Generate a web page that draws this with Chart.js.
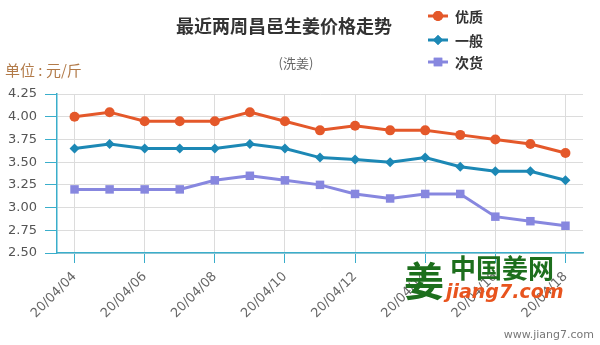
<!DOCTYPE html>
<html>
<head>
<meta charset="utf-8">
<script src="https://cdn.jsdelivr.net/npm/chart.js@4/dist/chart.umd.min.js"></script>
<style>
  html, body { margin: 0; padding: 0; background: #fff; }
  #wrap { width: 600px; height: 345px; position: relative; }
</style>
</head>
<body>
<div id="wrap"><canvas id="priceChart"></canvas></div>
<script>
// ============================================
// 昌邑生姜价格走势 (洗姜)
// ============================================
const dates = ['20/04/04', '20/04/05', '20/04/06', '20/04/07', '20/04/08', '20/04/09', '20/04/10',
    '20/04/11', '20/04/12', '20/04/13', '20/04/14', '20/04/15', '20/04/16', '20/04/17', '20/04/18'];
const youzhi = [4.00, 4.05, 3.95, 3.95, 3.95, 4.05, 3.95, 3.85, 3.90, 3.85, 3.85, 3.80, 3.75, 3.70, 3.60];
const yiban = [3.65, 3.70, 3.65, 3.65, 3.65, 3.70, 3.65, 3.55, 3.53, 3.50, 3.55, 3.45, 3.40, 3.40, 3.30];
const cihuo = [3.20, 3.20, 3.20, 3.20, 3.30, 3.35, 3.30, 3.25, 3.15, 3.10, 3.15, 3.15, 2.90, 2.85, 2.80];
const seriesNames = ['优质', '一般', '次货'];

const CN = "'Noto Sans CJK SC', sans-serif";
const NUM = "'DejaVu Sans', sans-serif";
const colors = ['#e4582a', '#1c88b5', '#8787df'];
const styles = ['circle', 'rectRot', 'rect'];
const radii = [5, 5, 6];
const axisColor = '#3aaecb';

// titles, legend and site marks
const decorPlugin = {
    id: 'decor',
    afterDraw(chart) {
        const ctx = chart.ctx;
        ctx.save();
        ctx.textBaseline = 'middle';

        ctx.fillStyle = '#333';
        ctx.font = "bold 18px " + CN;
        ctx.textAlign = 'left';
        ctx.fillText('最近两周昌邑生姜价格走势', 176, 26);

        ctx.fillStyle = '#666';
        ctx.font = "13px " + CN;
        ctx.textAlign = 'center';
        ctx.fillText('(洗姜)', 296, 63);

        ctx.fillStyle = '#b27a48';
        ctx.font = "15px " + CN;
        ctx.textAlign = 'left';
        ctx.fillText('单位 : 元/斤', 5, 70);

        // legend
        const rows = [16, 40, 62];
        seriesNames.forEach((name, i) => {
            const y = rows[i];
            ctx.strokeStyle = colors[i];
            ctx.lineWidth = 3;
            ctx.beginPath();
            ctx.moveTo(428, y);
            ctx.lineTo(448, y);
            ctx.stroke();
            ctx.fillStyle = colors[i];
            Chart.helpers.drawPoint(ctx, { pointStyle: styles[i], radius: radii[i], borderWidth: 0 }, 438, y);
            ctx.fill();
            ctx.fillStyle = '#333';
            ctx.font = "bold 14px " + CN;
            ctx.fillText(name, 455, y + 1);
        });

        // site mark
        ctx.fillStyle = '#1d6f1d';
        ctx.font = "bold 40px " + CN;
        ctx.fillText('姜', 404, 281);
        ctx.font = "bold 26px " + CN;
        ctx.fillText('中国姜网', 450, 268);
        ctx.fillStyle = '#e8541e';
        ctx.font = "italic bold 19px 'DejaVu Sans', sans-serif";
        ctx.fillText('jiang7.com', 446, 293);

        ctx.fillStyle = '#777';
        ctx.font = "11px " + NUM;
        ctx.textAlign = 'right';
        ctx.fillText('www.jiang7.com', 594, 335);
        ctx.restore();
    }
};

const makeSet = (i, data) => ({
    label: seriesNames[i],
    data: data,
    borderColor: colors[i],
    backgroundColor: colors[i],
    borderWidth: 3,
    pointStyle: styles[i],
    pointRadius: radii[i],
    pointBorderWidth: 0,
    pointHoverRadius: radii[i],
    tension: 0,
    fill: false
});

new Chart(document.getElementById('priceChart'), {
    type: 'line',
    data: {
        labels: dates,
        datasets: [makeSet(0, youzhi), makeSet(1, yiban), makeSet(2, cihuo)]
    },
    options: {
        responsive: true,
        maintainAspectRatio: false,
        animation: false,
        layout: { padding: { top: 94, right: 17, left: 0, bottom: 0 } },
        plugins: {
            legend: { display: false },
            tooltip: { enabled: false }
        },
        scales: {
            x: {
                offset: true,
                afterFit(axis) { axis.height = 92; },
                grid: {
                    color: '#dcdcdc',
                    tickColor: axisColor,
                    tickLength: 10,
                    offset: false
                },
                border: { color: axisColor, width: 1.5 },
                ticks: {
                    autoSkip: false,
                    maxRotation: 45,
                    minRotation: 45,
                    padding: 6,
                    color: '#666',
                    font: { family: NUM, size: 13 },
                    callback: function (value, index) {
                        return index % 2 === 0 ? dates[index] : null;
                    }
                }
            },
            y: {
                min: 2.5,
                max: 4.25,
                afterFit(axis) { axis.width = 57; },
                grid: {
                    color: '#dcdcdc',
                    tickColor: axisColor,
                    tickLength: 12
                },
                border: { color: axisColor, width: 1.5 },
                ticks: {
                    stepSize: 0.25,
                    padding: 8,
                    color: '#555',
                    font: { family: NUM, size: 13 },
                    callback: function (value) {
                        return value.toFixed(2);
                    }
                }
            }
        }
    },
    plugins: [decorPlugin]
});
</script>
</body>
</html>
